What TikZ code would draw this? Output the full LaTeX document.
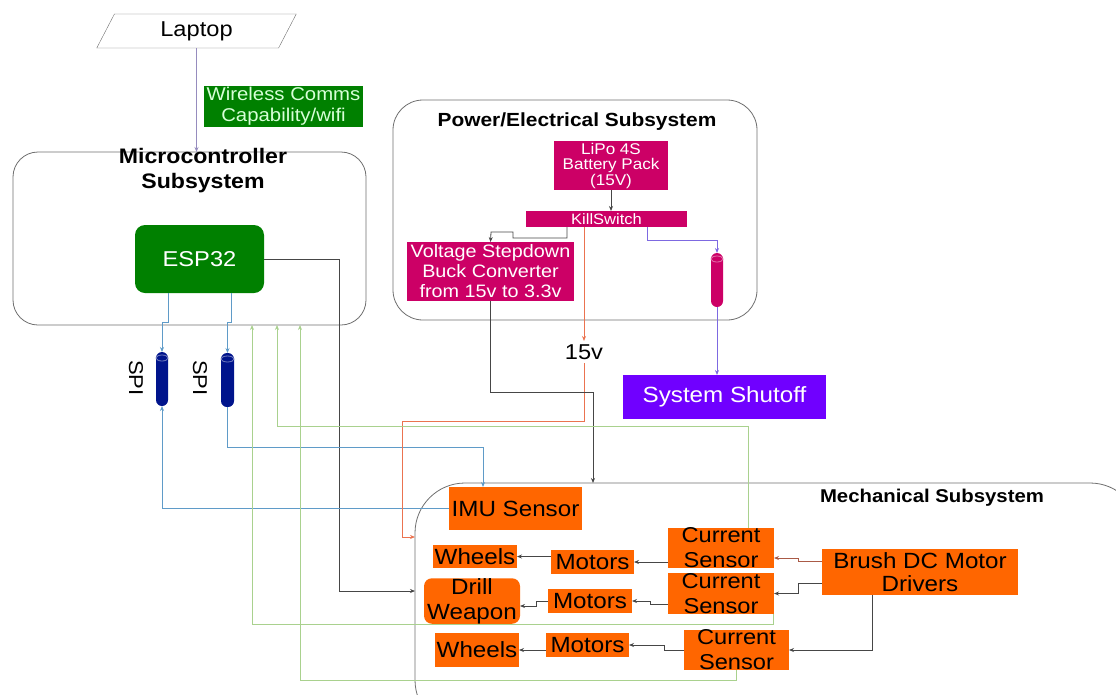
\documentclass[tikz,border=0pt]{standalone}
\usepackage{fontspec}
\setmainfont[FakeStretch=1.1]{Liberation Sans}
\usetikzlibrary{shapes.geometric,arrows.meta}

\definecolor{boxgrey}{RGB}{110,110,110}
\definecolor{espgreen}{RGB}{0,128,0}
\definecolor{wifitext}{RGB}{215,255,215}
\definecolor{pwrpink}{RGB}{204,0,102}
\definecolor{mechorange}{RGB}{255,102,0}
\definecolor{shutpurple}{RGB}{112,0,255}
\definecolor{spinavy}{RGB}{0,20,140}
\definecolor{spiblue}{RGB}{95,155,200}
\definecolor{fbgreen}{RGB}{169,209,142}
\definecolor{vorange}{RGB}{235,115,80}
\definecolor{killpurple}{RGB}{125,105,225}
\definecolor{laplink}{RGB}{150,140,190}
\definecolor{drvbrown}{RGB}{170,90,70}
\definecolor{linkgrey}{RGB}{70,70,70}

\tikzset{
  subsys/.style={draw=boxgrey, line width=0.8pt, outer sep=0pt},
  block/.style={inner sep=0pt, outer sep=0pt, align=center},
  link/.style={line width=0.8pt, -{Stealth[length=5pt,width=4pt]}},
  pipe/.style={rectangle, rounded corners=6pt, fill=#1, inner sep=0pt, outer sep=0pt,
    minimum width=12pt, minimum height=54pt},
  pipering/.style={draw=#1!55!white, line width=0.8pt},
}

\begin{document}
\begin{tikzpicture}[x=1pt, y=-1pt]
        \clip (0,0) rectangle (1116,694);

        % Subsystem frames
        \node[subsys, rounded corners=25pt, minimum width=353pt, minimum height=173pt] (MCU) at (189.5,238.5) {};
        \node[subsys, rounded corners=30pt, minimum width=364pt, minimum height=220pt] (PWR) at (575,210) {};
        \node[subsys, rounded corners=50pt, minimum width=725pt, minimum height=247pt] (MECH) at (777.5,606.5) {};

        % Frame titles
        \node[align=center, font=\bfseries\fontsize{21}{25}\selectfont] (MCUtitle) at (203,170.5) {Microcontroller\\Subsystem};
        \node[font=\bfseries\fontsize{19}{22}\selectfont] (PWRtitle) at (577,122) {Power/Electrical Subsystem};
        \node[font=\bfseries\fontsize{18.5}{22}\selectfont] (MECHtitle) at (932,498) {Mechanical Subsystem};

        % Nodes (laptop and microcontroller)
        \node[draw=boxgrey, trapezium, trapezium left angle=68, trapezium right angle=112, trapezium stretches=true,
              minimum width=201pt, minimum height=34pt, inner sep=0pt, font=\fontsize{21.5}{25}\selectfont] (Laptop) at (196.5,31) {Laptop};
        \node[block, fill=espgreen, text=wifitext, minimum width=159pt, minimum height=41pt, font=\fontsize{18.5}{21}\selectfont] (Wifi) at (283.5,106.5) {Wireless Comms\\Capability/wifi};
        \node[block, fill=espgreen, text=white, rounded corners=10pt, minimum width=129pt, minimum height=68pt, font=\fontsize{21.5}{25}\selectfont] (ESP) at (199.5,259) {ESP32};

        % Nodes (SPI buses)
        \node[pipe=spinavy] (SPIa) at (162,379) {};
        \node[pipe=spinavy, minimum width=13pt] (SPIb) at (227.5,380) {};
        \draw[pipering=spinavy] ([yshift=-6pt]SPIa.north) ellipse [x radius=6pt, y radius=3pt];
        \draw[pipering=spinavy] ([yshift=-6pt]SPIb.north) ellipse [x radius=6.5pt, y radius=3pt];
        \node[rotate=-90, font=\fontsize{20}{22}\selectfont] (SPIaLabel) at (136,378) {SPI};
        \node[rotate=-90, font=\fontsize{20}{22}\selectfont] (SPIbLabel) at (200,378) {SPI};

        % Nodes (power)
        \node[block, fill=pwrpink, text=white, minimum width=114pt, minimum height=49pt, font=\fontsize{15.5}{15.5}\selectfont] (LiPo) at (611,165.5) {LiPo 4S\\Battery Pack\\(15V)};
        \node[block, fill=pwrpink, text=white, minimum width=161pt, minimum height=16pt, font=\fontsize{15}{16}\selectfont] (Kill) at (606.5,219) {KillSwitch};
        \node[block, fill=pwrpink, text=white, minimum width=167pt, minimum height=59pt, font=\fontsize{18}{20}\selectfont] (Buck) at (490.5,271.5) {Voltage Stepdown\\Buck Converter\\from 15v to 3.3v};
        \node[pipe=pwrpink] (KillPipe) at (717,280) {};
        \draw[pipering=pwrpink] ([yshift=-6pt]KillPipe.north) ellipse [x radius=6pt, y radius=3pt];
        \node[font=\fontsize{21.5}{25}\selectfont] (V15) at (584,352) {15v};
        \node[block, fill=shutpurple, text=white, minimum width=203pt, minimum height=44pt, font=\fontsize{22}{25}\selectfont] (Shutoff) at (724.5,397) {System Shutoff};

        % Nodes (mechanical)
        \node[block, fill=mechorange, minimum width=133pt, minimum height=43pt, font=\fontsize{22}{25}\selectfont] (IMU) at (515.5,508.5) {IMU Sensor};
        \node[block, fill=mechorange, minimum width=84pt, minimum height=23pt, font=\fontsize{22}{25}\selectfont] (WheelsA) at (475,556.5) {Wheels};
        \node[block, fill=mechorange, minimum width=83pt, minimum height=24pt, font=\fontsize{22}{25}\selectfont] (MotorsA) at (592.5,562) {Motors};
        \node[block, fill=mechorange, minimum width=106pt, minimum height=40pt, font=\fontsize{21.5}{25}\selectfont] (CurA) at (721,548) {Current\\Sensor};
        \node[block, fill=mechorange, rounded corners=8pt, minimum width=96pt, minimum height=44pt, font=\fontsize{22}{25}\selectfont] (Drill) at (472,601) {Drill\\Weapon};
        \node[block, fill=mechorange, minimum width=84pt, minimum height=24pt, font=\fontsize{22}{25}\selectfont] (MotorsB) at (590,601) {Motors};
        \node[block, fill=mechorange, minimum width=106pt, minimum height=39pt, font=\fontsize{21.5}{25}\selectfont] (CurB) at (721,593.5) {Current\\Sensor};
        \node[block, fill=mechorange, minimum width=84pt, minimum height=34pt, font=\fontsize{22}{25}\selectfont] (WheelsB) at (477,650) {Wheels};
        \node[block, fill=mechorange, minimum width=83pt, minimum height=24pt, font=\fontsize{22}{25}\selectfont] (MotorsC) at (587.5,645) {Motors};
        \node[block, fill=mechorange, minimum width=105pt, minimum height=40pt, font=\fontsize{21.5}{25}\selectfont] (CurC) at (736.5,650) {Current\\Sensor};
        \node[block, fill=mechorange, minimum width=196pt, minimum height=46pt, font=\fontsize{22}{23}\selectfont] (Brush) at (920,572) {Brush DC Motor\\Drivers};

        % Entry points on the frames
        \coordinate (InA) at (252,325);
        \coordinate (InB) at (277,325);
        \coordinate (InC) at (300,325);
        \coordinate (ImuTurn) at (402,421);
        \coordinate (ImuIn) at (415,537);
        \coordinate (EspTurn) at (339,591);
        \coordinate (BuckIn) at (593,483);

        % Laptop and microcontroller links
        \draw[link, laplink] (Laptop.south) -- (Laptop.south |- MCU.north);
        \draw[link, linkgrey] (ESP.east) -| (EspTurn) -- (EspTurn -| MECH.west);
        \draw[link, spiblue] ([xshift=-31.5pt]ESP.south) -- ++(0,29) -| (SPIa.north);
        \draw[link, spiblue] ([xshift=31.5pt]ESP.south) -- ++(0,29) -| (SPIb.north);
        \draw[link, spiblue] (SPIb.south) -- ++(0,40) -| ([xshift=-32.5pt]IMU.north);
        \draw[link, spiblue] (IMU.west) -| (SPIa.south);

        % Power links
        \draw[link, linkgrey] (LiPo.south) -- (LiPo.south |- Kill.north);
        \draw[link, linkgrey] ([xshift=-39.5pt]Kill.south) |- ++(-54,11) |- ++(-22,-6) -- (Buck.north);
        \draw[link, vorange] (Kill.south -| V15) -- (V15.north);
        \draw[link, vorange] (V15.south) |- (ImuTurn) |- (ImuIn);
        \draw[link, linkgrey] (Buck.south) -- ++(0,91) -| (BuckIn);
        \draw[link, killpurple] ([xshift=40.5pt]Kill.south) -- ++(0,13) -| (KillPipe.north);
        \draw[link, killpurple] (KillPipe.south) -- (KillPipe.south |- Shutoff.north);

        % Feedback to microcontroller
        \draw[link, fbgreen] ([xshift=27pt]CurA.north) -- ++(0,-101) -| (InB);
        \draw[link, fbgreen] ([xshift=52pt]CurB.south) -- ++(0,11) -| (InA);
        \draw[link, fbgreen] (CurC.south) -- ++(0,10) -| (InC);

        % Drive chain
        \draw[link, drvbrown] ([yshift=11pt]Brush.west) -- ++(-24,0) |- ([yshift=-10pt]CurA.east);
        \draw[link, linkgrey] ([yshift=-11pt]Brush.west) -- ++(-24,0) |- (CurB.east);
        \draw[link, linkgrey] ([xshift=-48pt]Brush.south) |- (CurC.east);
        \draw[link, linkgrey] (CurA.west |- MotorsA) -- (MotorsA.east);
        \draw[link, linkgrey] (MotorsA.west |- WheelsA) -- (WheelsA.east);
        \draw[link, linkgrey] ([yshift=-10.5pt]CurB.west) -- ++(-18,0) |- (MotorsB.east);
        \draw[link, linkgrey] (MotorsB.west) -- ++(-12,0) |- ([yshift=-5pt]Drill.east);
        \draw[link, linkgrey] (CurC.west) -- ++(-20,0) |- (MotorsC.east);
        \draw[link, linkgrey] (MotorsC.west |- WheelsB) -- (WheelsB.east);

    \end{tikzpicture}
\end{document}
